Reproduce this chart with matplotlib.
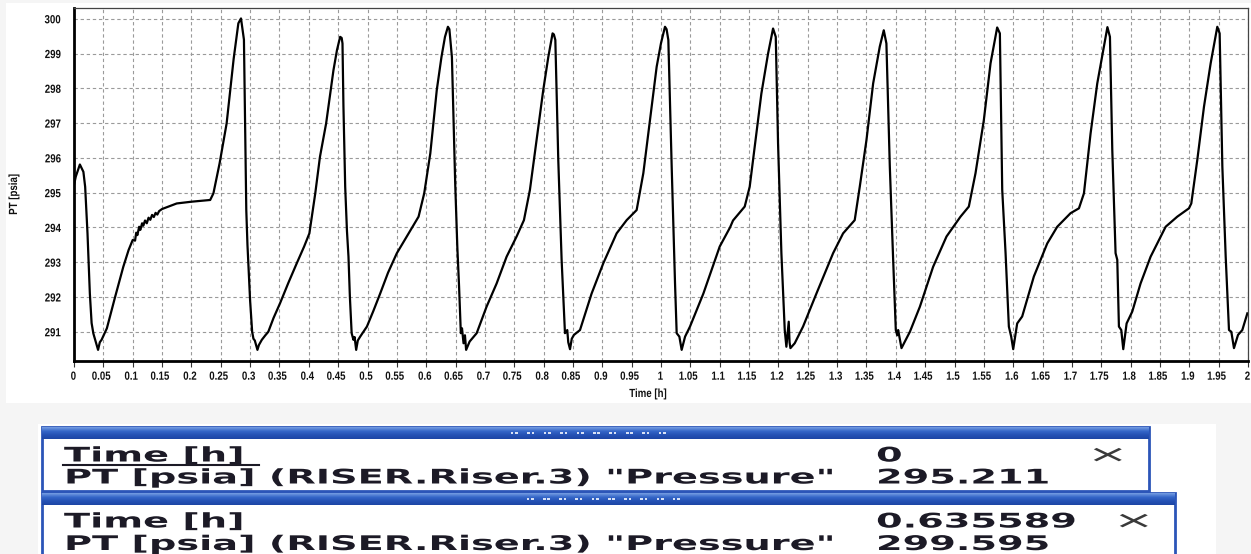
import numpy as np
import matplotlib
matplotlib.use("Agg")
import matplotlib.pyplot as plt
from matplotlib import font_manager
from matplotlib.patheffects import AbstractPathEffect
from matplotlib.transforms import Affine2D
from matplotlib.patches import Rectangle
from matplotlib.ticker import FixedLocator, FuncFormatter
from matplotlib.colors import LinearSegmentedColormap

# ---------------- data ----------------
time_h = [
    0.000, 0.003, 0.010, 0.016, 0.019, 0.023, 0.027, 0.030, 0.033, 0.036, 0.041, 0.044,
    0.047, 0.056, 0.070, 0.084, 0.093, 0.100, 0.104, 0.106, 0.108, 0.111, 0.113, 0.116,
    0.118, 0.121, 0.124, 0.127, 0.130, 0.133, 0.136, 0.139, 0.142, 0.145, 0.150, 0.175,
    0.200, 0.232, 0.2375, 0.248, 0.260, 0.272, 0.280, 0.2845, 0.2895, 0.2915, 0.2935,
    0.2955, 0.2975, 0.300, 0.3035, 0.3057, 0.308, 0.3105, 0.3125, 0.315, 0.320, 0.326,
    0.331, 0.340, 0.351, 0.365, 0.3795, 0.392, 0.401, 0.411, 0.419, 0.4295, 0.442, 0.448,
    0.4534, 0.456, 0.4574, 0.459, 0.462, 0.465, 0.4676, 0.470, 0.473, 0.476, 0.478,
    0.4807, 0.4835, 0.4875, 0.499, 0.510, 0.5216, 0.535, 0.550, 0.567, 0.587, 0.5966,
    0.607, 0.618, 0.626, 0.632, 0.637, 0.6395, 0.6438, 0.6494, 0.653, 0.656, 0.659,
    0.661, 0.6636, 0.666, 0.668, 0.674, 0.686, 0.6935, 0.7028, 0.720, 0.737, 0.754,
    0.7665, 0.7767, 0.788, 0.7994, 0.808, 0.8153, 0.8175, 0.820, 0.825, 0.8307, 0.8364,
    0.8385, 0.8403, 0.842, 0.845, 0.848, 0.8517, 0.862, 0.8818, 0.9017, 0.9244, 0.9415,
    0.9585, 0.9699, 0.9813, 0.9926, 1.000, 1.0068, 1.0095, 1.0125, 1.0182, 1.0239,
    1.0267, 1.0313, 1.0352, 1.041, 1.0494, 1.0722, 1.0949, 1.100, 1.1176, 1.1227,
    1.1426, 1.1511, 1.1597, 1.171, 1.1824, 1.1909, 1.1955, 1.1994, 1.2051, 1.2108,
    1.2136, 1.2176, 1.2190, 1.2205, 1.2278, 1.242, 1.2648, 1.2932, 1.3102, 1.330,
    1.3386, 1.350, 1.3614, 1.3727, 1.3795, 1.384, 1.3898, 1.3955, 1.400, 1.4025, 1.404,
    1.4097, 1.424, 1.441, 1.4636, 1.4864, 1.5102, 1.5244, 1.5358, 1.550, 1.5614, 1.5727,
    1.5773, 1.5813, 1.587, 1.5926, 1.5966, 1.600, 1.6068, 1.6153, 1.6352, 1.658, 1.675,
    1.6977, 1.712, 1.7205, 1.7318, 1.7432, 1.7545, 1.7605, 1.7648, 1.7688, 1.7744,
    1.7773, 1.7801, 1.7841, 1.7875, 1.7932, 1.8028, 1.817, 1.8341, 1.8597, 1.8795,
    1.8994, 1.9034, 1.9136, 1.925, 1.9364, 1.9477, 1.9517, 1.9563, 1.962, 1.9676,
    1.9716, 1.9761, 1.983, 1.9903, 1.9989,
]
pressure_psia = [
    295.22, 295.46, 295.81, 295.60, 295.17, 293.83, 292.10, 291.25, 290.95, 290.77, 290.48, 290.70,
    290.77, 291.10, 292.00, 292.87, 293.35, 293.64, 293.62, 293.85, 293.78, 294.02, 293.93, 294.12,
    294.05, 294.20, 294.12, 294.28, 294.22, 294.36, 294.30, 294.42, 294.37, 294.47, 294.53, 294.69,
    294.74, 294.79, 294.98, 295.84, 296.99, 298.85, 299.87, 300.01, 299.40, 297.00, 294.50,
    293.50, 292.80, 291.90, 291.00, 290.80, 290.75, 290.60, 290.48, 290.62, 290.77, 290.90,
    291.00, 291.40, 291.82, 292.40, 292.97, 293.45, 293.83, 294.98, 296.03, 296.99, 298.52, 299.10,
    299.48, 299.45, 299.29, 297.50, 295.17, 293.90, 293.16, 292.00, 290.96, 290.77, 290.85,
    290.48, 290.75, 290.86, 291.15, 291.60, 292.10, 292.70, 293.26, 293.74, 294.31, 294.98,
    296.13, 297.95, 298.90, 299.48, 299.77, 299.70, 298.90, 295.27, 293.45, 292.30, 290.96,
    291.10, 290.67, 290.90, 290.48, 290.72, 290.96, 291.30, 291.72, 292.39, 293.16, 293.74,
    294.21, 295.08, 296.51, 297.95, 298.90, 299.58, 299.55, 299.39, 295.94, 293.07, 290.96,
    291.00, 291.05, 290.70, 290.50, 290.80, 290.91, 291.05, 292.10, 292.97, 293.83, 294.21,
    294.50, 295.56, 297.09, 298.62, 299.30, 299.77, 299.70, 299.39, 295.75, 292.39,
    290.96, 290.86, 290.48, 290.86, 291.15, 292.10, 293.20, 293.45, 294.00, 294.20,
    294.60, 295.17, 296.32, 297.85, 299.00, 299.72, 299.48, 296.42, 293.26, 291.05,
    290.57, 291.29, 290.70, 290.53, 290.67, 291.15, 292.10, 293.26, 293.83, 294.21,
    295.17, 296.51, 298.14, 299.20, 299.67, 299.29, 295.75, 293.07, 291.05, 290.90, 291.05,
    290.53, 291.00, 291.72, 292.87, 293.74, 294.31, 294.60, 295.56, 297.09, 298.72, 299.75,
    299.58, 295.08, 293.26, 291.15, 290.86, 290.50, 291.24, 291.44, 292.59, 293.54, 294.02,
    294.41, 294.55, 294.98, 296.70, 298.14, 299.20, 299.76, 299.48, 296.23, 293.26,
    293.07, 291.15, 291.05, 290.50, 291.24, 291.58, 292.39, 293.16, 294.02, 294.31,
    294.55, 294.69, 295.94, 297.47, 298.72, 299.77, 299.58, 295.75, 293.16, 291.05,
    291.00, 290.53, 290.91, 291.05, 291.53,
]
x_ticks = [round(0.05 * i, 2) for i in range(41)]
y_ticks = [291, 292, 293, 294, 295, 296, 297, 298, 299, 300]
x_label = "Time [h]"
y_label = "PT [psia]"
readout_names = ["Time [h]", 'PT [psia] (RISER.Riser.3) "Pressure"']
readout_1 = ["0", "295.211"]
readout_2 = ["0.635589", "299.595"]

# ---------------- helpers ----------------
class Stretch(AbstractPathEffect):
    """Draw text glyphs stretched horizontally about the text origin."""
    def __init__(self, sx):
        super().__init__()
        self.sx = sx

    def draw_path(self, renderer, gc, tpath, affine, rgbFace=None):
        renderer.draw_path(gc, tpath, Affine2D().scale(self.sx, 1.0) + affine, rgbFace)


names = {f.name for f in font_manager.fontManager.ttflist}
if "Liberation Sans Narrow" in names:
    tick_family = ["Liberation Sans Narrow", "DejaVu Sans"]
    tick_pe = []
else:
    tick_family = ["Liberation Sans", "DejaVu Sans"]
    tick_pe = [Stretch(0.82)]

W, H = 1251, 554
fig = plt.figure(figsize=(W / 100, H / 100), dpi=100)
fig.patch.set_facecolor("#f5f5f5")

# background / decoration axes in pixel coordinates
bg = fig.add_axes([0, 0, 1, 1], zorder=0)
bg.axis("off")
bg.add_patch(Rectangle((6, 3), W - 6, 400, facecolor="white", edgecolor="none"))
bg.add_patch(Rectangle((38, 424), 1216 - 38, H - 424, facecolor="white", edgecolor="none"))

# ---------------- main chart ----------------
ax = fig.add_axes([74 / W, 1 - 361 / H, (1248 - 74) / W, (361 - 8) / H], zorder=2)
ax.plot(time_h, pressure_psia, color="black", lw=1.6, solid_joinstyle="round")
ax.set_xlim(0, 2)
ax.set_ylim(290.16, 300.31)
ax.xaxis.set_major_locator(FixedLocator(x_ticks))
ax.yaxis.set_major_locator(FixedLocator(y_ticks))
ax.xaxis.set_major_formatter(FuncFormatter(lambda v, p: f"{round(v, 2):g}"))
ax.yaxis.set_major_formatter(FuncFormatter(lambda v, p: f"{v:g}"))
ax.grid(True, color="#9a9a9a", lw=0.8, linestyle=(0, (3, 2.5)))
ax.set_axisbelow(True)
ax.tick_params(axis="x", length=4, width=0.8, pad=3, color="#333333")
ax.tick_params(axis="y", length=0, pad=7)
for lab in ax.get_xticklabels() + ax.get_yticklabels():
    lab.set_family(tick_family)
    lab.set_weight("bold")
    lab.set_fontsize(8.5)
    lab.set_color("#111111")
    lab.set_path_effects(tick_pe)
for side in ("left", "bottom"):
    ax.spines[side].set_linewidth(2)
    ax.spines[side].set_color("black")
for side in ("top", "right"):
    ax.spines[side].set_linewidth(0.9)
    ax.spines[side].set_color("#444444")

fig.text(652 / W, 1 - 394 / H, x_label, ha="center", va="center", family=tick_family,
         weight="bold", fontsize=8.5, color="#111111", path_effects=tick_pe)
fig.text(14 / W, 1 - 190 / H, y_label, ha="center", va="center", rotation=90,
         family=tick_family, weight="bold", fontsize=8.5, color="#111111", path_effects=tick_pe)

# ---------------- readout boxes ----------------
blue = "#2b55b8"
grad = np.linspace(0, 1, 12).reshape(-1, 1)
cmap = LinearSegmentedColormap.from_list("bar", ["#6f98e0", "#3566c8", "#2552b5", "#1d46a6"])


def draw_box(x0, x1, y0, y1, gx0, gx1):
    bg.add_patch(Rectangle((x0, y0), x1 - x0, y1 - y0, facecolor="white",
                           edgecolor=blue, lw=2, zorder=1))
    bg.imshow(grad, extent=(x0, x1, y0 + 12, y0), aspect="auto", cmap=cmap,
              zorder=2, interpolation="bilinear")
    n = 10
    for i in range(n):
        gx = gx0 + i * (gx1 - gx0) / (n - 1)
        for dx in (-3.2, 1.2):
            bg.add_patch(Rectangle((gx + dx, y0 + 4.5), 2.6, 2.6, facecolor="#d8e2f6",
                                   edgecolor="none", zorder=3))


draw_box(42, 1149, 427, 491, 514, 662)
draw_box(42, 1175, 493, 560, 530, 676)
bg.set_xlim(0, W)
bg.set_ylim(H, 0)

txt_kw = dict(family="DejaVu Sans", weight="bold", fontsize=14.5, color="#1c1a26",
              ha="left", va="baseline", path_effects=[Stretch(1.9)], zorder=5)
bg.text(64, 461.5, readout_names[0], **txt_kw)
bg.text(64, 483.5, readout_names[1], **txt_kw)
bg.text(876, 461.5, readout_1[0], **txt_kw)
bg.text(876, 483.5, readout_1[1], **txt_kw)
bg.plot([63, 259], [464.8, 464.8], color="#1c1a26", lw=1.5, zorder=5)
bg.text(64, 527.5, readout_names[0], **txt_kw)
bg.text(64, 550, readout_names[1], **txt_kw)
bg.text(876, 527.5, readout_2[0], **txt_kw)
bg.text(876, 550, readout_2[1], **txt_kw)

x_kw = dict(family="DejaVu Sans", fontsize=17, color="#3a3a3a", ha="left",
            va="baseline", path_effects=[Stretch(2.1)], zorder=5)
bg.text(1087, 462, "\u00d7", **x_kw)
bg.text(1113, 528, "\u00d7", **x_kw)

fig.savefig("out.png", dpi=100, facecolor=fig.get_facecolor())
